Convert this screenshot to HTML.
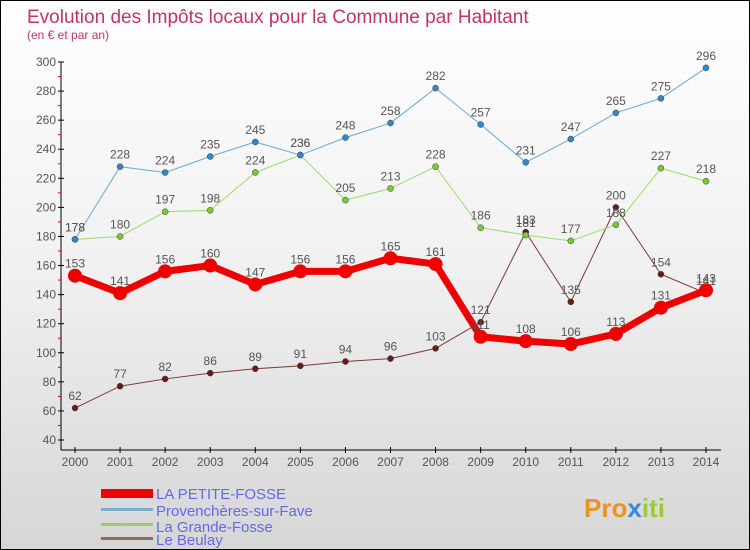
<!DOCTYPE html>
<html><head><meta charset="utf-8"><style>
body{margin:0}
#c{position:relative;width:748px;height:548px;border:1px solid #000;background:linear-gradient(#fff 0%,#f0f0f0 50%,#d6d6d6 100%);overflow:hidden;font-family:"Liberation Sans",sans-serif}
</style></head><body>
<div id="c">
<svg width="748" height="548">
<text x="26" y="22" font-size="19" fill="#c2336a">Evolution des Impôts locaux pour la Commune par Habitant</text>
<text x="26" y="38" font-size="12" fill="#c2336a">(en € et par an)</text>
<g id="axes"></g><g id="series"></g>
<g>
<rect x="100" y="488" width="52" height="9" fill="#e00"/>
<text x="155" y="498" font-size="15" fill="#6666ee">LA PETITE-FOSSE</text>
<rect x="100" y="507" width="52" height="3" fill="#7aaed0"/>
<text x="155" y="515" font-size="15" fill="#6666ee">Provenchères-sur-Fave</text>
<rect x="100" y="522" width="52" height="3" fill="#99cc77"/>
<text x="155" y="531" font-size="15" fill="#6666ee">La Grande-Fosse</text>
<rect x="100" y="536" width="52" height="3" fill="#996666"/>
<text x="155" y="544" font-size="15" fill="#6666ee">Le Beulay</text>
</g>
<text x="583" y="516" font-size="26" font-weight="bold" fill="#f09020">Pro<tspan fill="#3388dd">x</tspan><tspan fill="#99cc33">iti</tspan></text>
</svg>
</div>
<script>
const years=[2000,2001,2002,2003,2004,2005,2006,2007,2008,2009,2010,2011,2012,2013,2014];
const yTicks=[40,60,80,100,120,140,160,180,200,220,240,260,280,300];
const petite=[153,141,156,160,147,156,156,165,161,111,108,106,113,131,143];
const provench=[178,228,224,235,245,236,248,258,282,257,231,247,265,275,296];
const grande=[178,180,197,198,224,236,205,213,228,186,181,177,188,227,218];
const beulay=[62,77,82,86,89,91,94,96,103,121,183,135,200,154,141];
const NS="http://www.w3.org/2000/svg";
const X=i=>74+i*(631/14);
const Y=v=>439-(v-40)*(378/260);
function mk(t,a,p){const e=document.createElementNS(NS,t);for(const k in a)e.setAttribute(k,a[k]);p.appendChild(e);return e;}
const ax=document.getElementById('axes'),sg=document.getElementById('series');
const yl=mk('line',{x1:60,y1:Y(300),x2:60,y2:449,stroke:'#000'},ax);


const xl=mk('line',{x1:60,y1:449,x2:720,y2:449,stroke:'#000'},ax);


yTicks.forEach(v=>{mk('line',{x1:57,y1:Y(v),x2:63,y2:Y(v),stroke:'#000'},ax);
mk('line',{x1:57,y1:Y(v+10),x2:60,y2:Y(v+10),stroke:v<300?'#e00':'none'},ax);
const t=mk('text',{x:55,y:Y(v)+4,'font-size':12,fill:'#555','text-anchor':'end'},ax);t.textContent=v;

});
years.forEach((y,i)=>{mk('line',{x1:X(i),y1:446,x2:X(i),y2:452,stroke:'#000'},ax);
const t=mk('text',{x:X(i),y:465,'font-size':12,fill:'#555','text-anchor':'middle'},ax);t.textContent=y;

});
function series(d,col,dot,w,r,name){
const p=mk('polyline',{points:d.map((v,i)=>X(i)+','+Y(v)).join(' '),fill:'none',stroke:col,'stroke-width':w,'stroke-linejoin':'round'},sg);


d.forEach((v,i)=>{const c=mk('circle',{cx:X(i),cy:Y(v),r:r,fill:dot,stroke:'#333','stroke-width':r>4?0:0.5},sg);


const t=mk('text',{x:X(i),y:Y(v)-8,'font-size':12,fill:'#555','text-anchor':'middle'},sg);t.textContent=v;

});}
series(beulay,'#7a3a3a','#6b1a1a',1,3,'beulay');
series(grande,'#99dd66','#77cc33',1,3,'grande-fosse');
series(provench,'#6aa8d8','#3388cc',1,3,'provencheres');
series(petite,'#ee0000','#ee0000',7,7,'petite-fosse');
</script>
</body></html>
